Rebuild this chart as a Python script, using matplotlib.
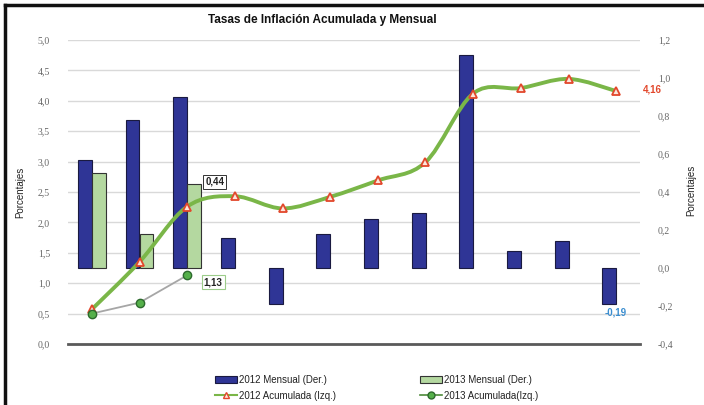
import matplotlib
matplotlib.use("Agg")
import matplotlib.pyplot as plt
import numpy as np
from matplotlib.path import Path
from matplotlib.patches import PathPatch, Patch
from matplotlib.lines import Line2D
from matplotlib.transforms import blended_transform_factory
from matplotlib.ticker import FuncFormatter

# datos (%)
meses = ['ene', 'feb', 'mar', 'abr', 'may', 'jun', 'jul', 'ago', 'sep', 'oct', 'nov', 'dic']
mensual_2012 = [0.57, 0.78, 0.90, 0.16, -0.19, 0.18, 0.26, 0.29, 1.12, 0.09, 0.14, -0.19]
mensual_2013 = [0.50, 0.18, 0.44]
acum_2012 = [0.57, 1.35, 2.26, 2.43, 2.23, 2.42, 2.69, 2.99, 4.12, 4.21, 4.36, 4.16]
acum_2013 = [0.50, 0.68, 1.13]

AZUL = '#2f3596'
VERDE_BAR = '#b4d8a0'
VERDE_LIN = '#7ab648'
ROJO = '#e2472b'

plt.rcParams['font.family'] = ['Liberation Sans', 'DejaVu Sans']

fig = plt.figure(figsize=(7.04, 4.05), dpi=100)
fig.patch.set_facecolor('white')

# eje de barras (derecha) abajo, eje de lineas (izquierda) encima
axb = fig.add_axes([68/704, 1-344/405, (640-68)/704, (344-40)/405])
axl = axb.twinx()
axb.yaxis.tick_right()
axl.yaxis.tick_left()
axl.yaxis.set_label_position('left')

x = np.arange(len(meses))
w = 0.29

axb.set_ylim(-0.4, 1.2)
axl.set_ylim(0, 5)
axb.set_xlim(-0.5, len(meses) - 0.5)
axl.set_xlim(-0.5, len(meses) - 0.5)

# rejilla segun escala izquierda, dibujada debajo de las barras
trans = blended_transform_factory(axb.transAxes, axl.transData)
for v in np.arange(0.5, 5.01, 0.5):
    axb.plot([0, 1], [v, v], transform=trans, color='#d9d9d9', lw=1.0, zorder=0)

axb.bar(x - w/2, mensual_2012, w, color=AZUL, edgecolor='#1a1a40', lw=0.8, zorder=2)
axb.bar(x[:len(mensual_2013)] + w/2, mensual_2013, w, color=VERDE_BAR, edgecolor='#333333', lw=0.8, zorder=2)

# linea suavizada (estilo Excel) para 2012 acumulada
def suave(xs, ys):
    pts = list(zip(xs, ys))
    verts = [pts[0]]
    codes = [Path.MOVETO]
    n = len(pts)
    for i in range(n - 1):
        p0 = pts[i - 1] if i > 0 else pts[i]
        p1 = pts[i]
        p2 = pts[i + 1]
        p3 = pts[i + 2] if i + 2 < n else pts[i + 1]
        c1 = (p1[0] + (p2[0] - p0[0]) / 6, p1[1] + (p2[1] - p0[1]) / 6)
        c2 = (p2[0] - (p3[0] - p1[0]) / 6, p2[1] - (p3[1] - p1[1]) / 6)
        verts += [c1, c2, p2]
        codes += [Path.CURVE4] * 3
    return Path(verts, codes)

axl.add_patch(PathPatch(suave(x, acum_2012), facecolor='none', edgecolor=VERDE_LIN, lw=2.8, zorder=3))
axl.plot(x, acum_2012, ls='none', marker='^', ms=6, mfc='#fde6dc', mec=ROJO, mew=1.3, zorder=4)

x13 = x[:len(acum_2013)]
axl.plot(x13, acum_2013, color='#a6a6a6', lw=1.3, zorder=3)
axl.plot(x13, acum_2013, ls='none', marker='o', ms=6, mfc='#55b04a', mec='#2d6a2d', mew=1.0, zorder=4)

# ejes
for a in (axb, axl):
    for s in ('top', 'left', 'right'):
        a.spines[s].set_visible(False)
    a.spines['bottom'].set_visible(False)
    a.tick_params(length=0)
axl.spines['bottom'].set_visible(True)
axl.spines['bottom'].set_color('#5a5a5a')
axl.spines['bottom'].set_linewidth(2.0)
axb.patch.set_visible(False)

coma = FuncFormatter(lambda v, p: f'{v:.1f}'.replace('.', ','))
axl.set_yticks(np.arange(0, 5.01, 0.5))
axb.set_yticks(np.arange(-0.4, 1.21, 0.2))
axl.yaxis.set_major_formatter(coma)
axb.yaxis.set_major_formatter(coma)
for a in (axl, axb):
    for t in a.get_yticklabels():
        t.set_fontfamily('Liberation Serif')
        t.set_fontsize(7)
        t.set_color('#666666')
axl.tick_params(axis='y', pad=13)
axb.tick_params(axis='y', pad=13)

axl.set_xticks(x)
axl.set_xticklabels(meses, fontsize=7.5, color='#404040', fontweight='bold')
axl.tick_params(axis='x', pad=7)
axb.set_xticks([])

axl.set_ylabel('Porcentajes', fontsize=7, color='#222222', labelpad=9)
fig.text(691/704, 1-190/405, 'Porcentajes', fontsize=7, color='#222222', rotation=90,
         ha='center', va='center')

# etiquetas de datos
axb.annotate('0,44', (x[2] + w, mensual_2013[2]), xytext=(3, 2), textcoords='offset points',
             fontsize=7, fontweight='bold', color='#222222', ha='left', va='center',
             bbox=dict(boxstyle='square,pad=0.2', fc='white', ec='#333333', lw=0.7), zorder=6)
axl.annotate('1,13', (x[2], acum_2013[2]), xytext=(12, -5), textcoords='offset points',
             fontsize=7, fontweight='bold', color='#222222', ha='left', va='center',
             bbox=dict(boxstyle='square,pad=0.2', fc='white', ec='#9ccc8a', lw=0.8), zorder=6)
axl.annotate('4,16', (x[11], acum_2012[11]), xytext=(19, 1), textcoords='offset points',
             fontsize=7, fontweight='bold', color=ROJO, ha='left', va='center', zorder=6)
axb.annotate('-0,19', (x[11], mensual_2012[11]), xytext=(0, -6), textcoords='offset points',
             fontsize=7, fontweight='bold', color='#3b8ed0', ha='center', va='center', zorder=6)

fig.text(322/704, 1-20/405, 'Tasas de Inflación Acumulada y Mensual', fontsize=8.5, fontweight='bold',
         ha='center', va='center', color='#111111')

# leyenda
handles = [
    Patch(facecolor=AZUL, edgecolor='#1a1a40', lw=0.8),
    Line2D([], [], color=VERDE_LIN, lw=1.5, marker='^', ms=5, mfc='#fde6dc', mec=ROJO),
    Patch(facecolor=VERDE_BAR, edgecolor='#333333', lw=0.8),
    Line2D([], [], color='#4d8a3a', lw=1.2, marker='o', ms=5, mfc='#55b04a', mec='#2d6a2d'),
]
labels = ['2012 Mensual (Der.)', '2012 Acumulada (Izq.)', '2013 Mensual (Der.)', '2013 Acumulada(Izq.)']
fig.legend(handles, labels, ncol=2, loc='upper left', bbox_to_anchor=(210/704, 1-370/405),
           frameon=False, fontsize=7, handlelength=2.3, handleheight=0.6, handletextpad=0.2,
           columnspacing=8.6, labelspacing=0.6, borderpad=0, labelcolor='#222222')

# marco
fig.add_artist(Line2D([5/704, 5/704], [0, 1-5/405], color='#111111', lw=2.5))
fig.add_artist(Line2D([5/704, 1], [1-5/405, 1-5/405], color='#111111', lw=2.5))

fig.savefig('out.png', dpi=100)
